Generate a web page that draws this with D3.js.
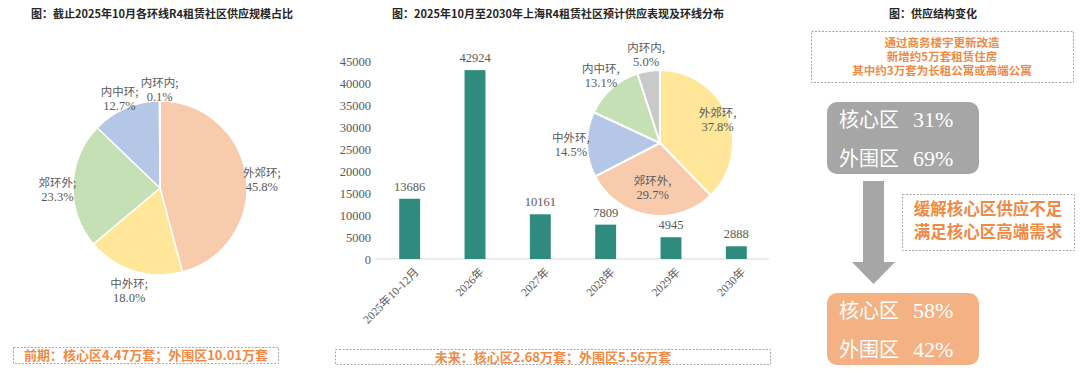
<!DOCTYPE html>
<html><head><meta charset="utf-8">
<script src="https://cdn.jsdelivr.net/npm/d3@7"></script>
<style>
body{margin:0;background:#fff;}
svg{display:block;}
text{font-family:"Liberation Serif","Noto Sans CJK SC",serif;}
.cjk{font-family:"Noto Sans CJK SC",sans-serif;}
</style></head><body>
<svg id="c" width="1080" height="378"></svg>
<script>
// ---- data ----
const titles = ["图：截止2025年10月各环线R4租赁社区供应规模占比",
                "图：2025年10月至2030年上海R4租赁社区预计供应表现及环线分布",
                "图：供应结构变化"];
const ringNames1 = ["外郊环","中外环","郊环外","内中环","内环内"];
const ringShares1 = [45.8, 18.0, 23.3, 12.7, 0.1];
const barCategories = ["2025年10-12月","2026年","2027年","2028年","2029年","2030年"];
const barValues = [13686, 42924, 10161, 7809, 4945, 2888];
const yTicks = [0,5000,10000,15000,20000,25000,30000,35000,40000,45000];
const ringNames2 = ["外郊环","郊环外","中外环","内中环","内环内"];
const ringShares2 = [37.8, 29.7, 14.5, 13.1, 5.0];
const footer1 = "前期：核心区4.47万套；外围区10.01万套";
const footer2 = "未来：核心区2.68万套；外围区5.56万套";
const noteLines = ["通过商务楼宇更新改造","新增约5万套租赁住房","其中约3万套为长租公寓或高端公寓"];
const effectLines = ["缓解核心区供应不足","满足核心区高端需求"];
const zones = ["核心区","外围区"];
const beforePct = [31, 69];
const afterPct = [58, 42];

// ---- styles ----
const ringColor = {"外郊环":"#F8CBAD","中外环":"#FFE699","郊环外":"#C5E0B4","内中环":"#B4C7E7","内环内":"#D0CECE"};
const ringColor2 = {"外郊环":"#FFE699","郊环外":"#F8CBAD","中外环":"#B4C7E7","内中环":"#C5E0B4","内环内":"#C9C9C9"};
const orange = "#EE8A45";
const txt = "#595959";
const svg = d3.select("#c");

// titles
[[162,titles[0]],[558,titles[1]],[933,titles[2]]].forEach(([x,t])=>{
  svg.append("text").attr("class","cjk").attr("x",x).attr("y",18).attr("text-anchor","middle")
    .attr("font-size",11).attr("font-weight","bold").attr("fill","#262626").text(t);
});

// ---- left pie ----
{
  const cx=160, cy=188, r=87;
  const pie = d3.pie().sort(null).value(d=>d.v);
  const data = pie(ringNames1.map((n,i)=>({n, v:ringShares1[i]})));
  const arc = d3.arc().innerRadius(0).outerRadius(r);
  const lab = d3.arc().innerRadius(r*1.18).outerRadius(r*1.18);
  const g = svg.append("g").attr("transform",`translate(${cx},${cy})`);
  g.selectAll("path").data(data).join("path").attr("d",arc)
    .attr("fill",d=>ringColor[d.data.n]).attr("stroke","#fff").attr("stroke-width",1.5);
  const lg = g.selectAll("g.l").data(data).join("g").attr("class","l")
    .attr("transform",d=>{const [x,y]=lab.centroid(d);return `translate(${x},${y+6})`;});
  lg.append("text").attr("class","cjk").attr("text-anchor","middle").attr("y",-4).attr("font-size",11.5).attr("fill",txt).text(d=>d.data.n+";");
  lg.append("text").attr("text-anchor","middle").attr("y",10).attr("font-size",12.5).attr("fill",txt).text(d=>d.data.v.toFixed(1)+"%");
}

// ---- bar chart ----
{
  const x = d3.scaleBand().domain(barCategories).range([377,769]).paddingInner(0.68).paddingOuter(0.34);
  const y = d3.scaleLinear().domain([0,45000]).range([259,61]);
  svg.append("line").attr("x1",375).attr("x2",769).attr("y1",y(0)).attr("y2",y(0)).attr("stroke","#D9D9D9");
  const ya = svg.append("g").attr("transform","translate(371,0)")
    .call(d3.axisLeft(y).tickValues(yTicks).tickFormat(d3.format("d")).tickSize(0).tickPadding(0));
  ya.select(".domain").remove();
  ya.selectAll("text").attr("font-size",12.5).attr("fill",txt).style("font-family","Liberation Serif");
  svg.selectAll("rect.bar").data(barValues).join("rect").attr("class","bar")
    .attr("x",(d,i)=>x(barCategories[i])).attr("width",x.bandwidth())
    .attr("y",d=>y(d)).attr("height",d=>y(0)-y(d)).attr("fill","#2E8B7D");
  svg.selectAll("text.val").data(barValues).join("text").attr("class","val")
    .attr("x",(d,i)=>x(barCategories[i])+x.bandwidth()/2).attr("y",d=>y(d)-8)
    .attr("text-anchor","middle").attr("font-size",12.5).attr("fill",txt).text(d=>d);
  svg.selectAll("text.xl").data(barCategories).join("text").attr("class","xl")
    .attr("transform",d=>`translate(${x(d)+x.bandwidth()/2+4},${y(0)+8}) rotate(-45)`)
    .attr("text-anchor","end").attr("dy","0.7em").attr("font-size",11.5).attr("fill",txt).text(d=>d);
}

// ---- inset pie ----
{
  const cx=660, cy=143, r=73;
  const pie = d3.pie().sort(null).value(d=>d.v);
  const data = pie(ringNames2.map((n,i)=>({n, v:ringShares2[i]})));
  const arc = d3.arc().innerRadius(0).outerRadius(r);
  const g = svg.append("g").attr("transform",`translate(${cx},${cy})`);
  g.selectAll("path").data(data).join("path").attr("d",arc)
    .attr("fill",d=>ringColor2[d.data.n]).attr("stroke","#fff").attr("stroke-width",2);
  const pos = d=>{
    const k = d.data.v>20 ? (d.data.v>35?0.85:0.62) : 1.22;
    const a = d3.arc().innerRadius(r*k).outerRadius(r*k);
    return a.centroid(d);
  };
  const lg = g.selectAll("g.l").data(data).join("g").attr("class","l")
    .attr("transform",d=>{const [x,y]=pos(d);return `translate(${x},${y})`;});
  lg.append("text").attr("class","cjk").attr("text-anchor","middle").attr("y",-3).attr("font-size",11.5).attr("fill",txt).text(d=>d.data.n+",");
  lg.append("text").attr("text-anchor","middle").attr("y",11).attr("font-size",12.5).attr("fill",txt).text(d=>d.data.v.toFixed(1)+"%");
}

// ---- footers ----
function dashedBox(x,y,w,h){
  svg.append("rect").attr("x",x).attr("y",y).attr("width",w).attr("height",h)
    .attr("fill","none").attr("stroke","#A6A6A6").attr("stroke-width",1).attr("stroke-dasharray","2,1.5");
}
dashedBox(13.5,347.5,265,16);
svg.append("text").attr("class","cjk").attr("x",146).attr("y",360).attr("text-anchor","middle")
  .attr("font-size",13).attr("font-weight","bold").attr("fill",orange).text(footer1);
dashedBox(335.5,349.5,435,15);
svg.append("text").attr("class","cjk").attr("x",553).attr("y",361.5).attr("text-anchor","middle")
  .attr("font-size",13).attr("font-weight","bold").attr("fill",orange).text(footer2);

// ---- right panel ----
dashedBox(811.5,31.5,262,51);
svg.selectAll("text.note").data(noteLines).join("text").attr("class","cjk note")
  .attr("x",942).attr("y",(d,i)=>47+i*14).attr("text-anchor","middle")
  .attr("font-size",11.5).attr("font-weight","bold").attr("fill",orange).text(d=>d);

function zoneBox(y0,fill,pcts){
  svg.append("rect").attr("x",827).attr("y",y0).attr("width",152).attr("height",72).attr("rx",10).attr("fill",fill);
  pcts.forEach((p,i)=>{
    svg.append("text").attr("class","cjk").attr("x",839).attr("y",y0+25+i*39).attr("font-size",20).attr("fill","#fff").text(zones[i]);
    svg.append("text").attr("x",913).attr("y",y0+25+i*39).attr("font-size",22).attr("fill","#fff").text(p+"%");
  });
}
zoneBox(102,"#A6A6A6",beforePct);
zoneBox(293,"#F4B183",afterPct);

// arrow
svg.append("path").attr("d","M863,181 L884,181 L884,262 L895,262 L873.5,284 L852,262 L863,262 Z").attr("fill","#A6A6A6");

dashedBox(902.5,194.5,172,56);
svg.selectAll("text.eff").data(effectLines).join("text").attr("class","cjk eff")
  .attr("x",988).attr("y",(d,i)=>215+i*23).attr("text-anchor","middle")
  .attr("font-size",16.5).attr("font-weight","bold").attr("fill",orange).text(d=>d);
</script></body></html>
